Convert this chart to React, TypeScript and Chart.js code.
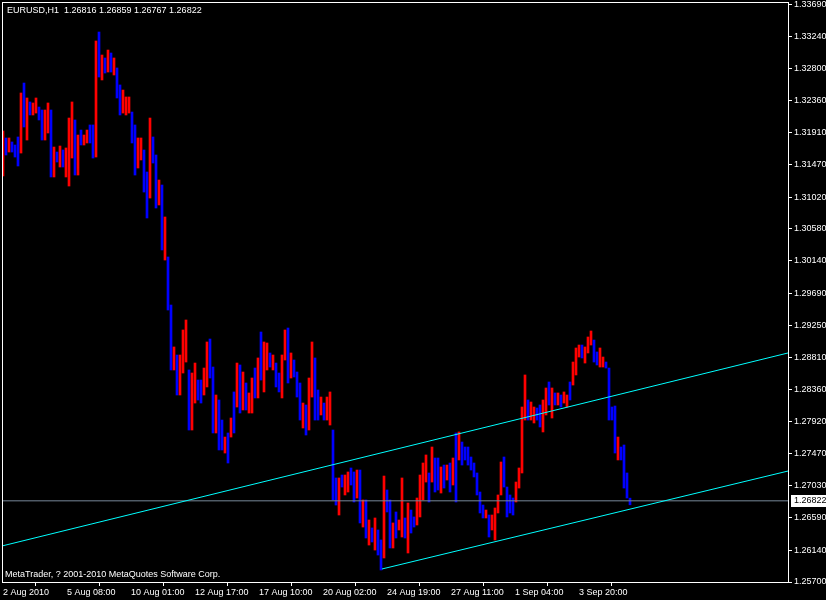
import { useEffect, useRef } from "react";
import { Chart, registerables } from "chart.js";

Chart.register(...registerables);

// ---- data (EURUSD, H1, each entry here = 3 hourly bars aggregated) ----
const symbol = "EURUSD,H1";
const lastQuote = [1.26816, 1.26859, 1.26767, 1.26822]; // O H L C of the current bar
const hoursPerBar = 3;
const firstOpen = 1.314;

const highs = [
  1.31935, 1.31838, 1.31838, 1.31783, 1.31741, 1.31852, 1.3246, 1.32598, 1.32391, 1.32336,
  1.32322, 1.32391, 1.32266, 1.32225, 1.32225, 1.32322, 1.32225, 1.31713, 1.31644, 1.31727,
  1.31672, 1.317, 1.32114, 1.32336, 1.32087, 1.31879, 1.31948, 1.31879, 1.31948, 1.32018,
  1.32018, 1.33179, 1.33303, 1.32985, 1.32944, 1.33054, 1.33013, 1.32944, 1.32806, 1.32571,
  1.32501, 1.32405, 1.32405, 1.32197, 1.32018, 1.31838, 1.31838, 1.31672, 1.31368, 1.32114,
  1.31852, 1.31603, 1.31257, 1.31188, 1.30746, 1.30193, 1.29529, 1.28949, 1.28838, 1.28838,
  1.29184, 1.29322, 1.28631, 1.28589, 1.28727, 1.28492, 1.28492, 1.28658, 1.29018, 1.29059,
  1.28672, 1.28285, 1.28216, 1.27939, 1.27704, 1.2776, 1.27967, 1.28327, 1.28727, 1.287,
  1.28603, 1.28451, 1.28313, 1.2852, 1.28658, 1.28797, 1.29156, 1.29018, 1.29004, 1.28866,
  1.28838, 1.28727, 1.28589, 1.28838, 1.29184, 1.29211, 1.28866, 1.28769, 1.28603, 1.28451,
  1.28174, 1.28147, 1.2852, 1.29018, 1.28797, 1.28354, 1.28257, 1.28174, 1.28257, 1.28327,
  1.27801, 1.27138, 1.27138, 1.27179, 1.27179, 1.27221, 1.27276, 1.27221, 1.27248, 1.27248,
  1.26834, 1.26834, 1.26557, 1.26447, 1.26585, 1.26419, 1.26281, 1.27165, 1.26972, 1.26834,
  1.26516, 1.26668, 1.26557, 1.27138, 1.26585, 1.26792, 1.26695, 1.26599, 1.26861, 1.27179,
  1.27345, 1.27456, 1.27207, 1.27566, 1.27414, 1.27414, 1.2729, 1.27317, 1.27317, 1.27345,
  1.27414, 1.2776, 1.27774, 1.27635, 1.27566, 1.27566, 1.27428, 1.27345, 1.27207, 1.26944,
  1.26764, 1.26695, 1.26626, 1.26626, 1.26723, 1.26903, 1.27359, 1.27428, 1.27013, 1.26903,
  1.26861, 1.27082, 1.27276, 1.28119, 1.28562, 1.28216, 1.28188, 1.28119, 1.28105, 1.28147,
  1.28216, 1.28382, 1.28465, 1.28382, 1.28313, 1.28313, 1.28285, 1.28327, 1.28285, 1.28465,
  1.28741, 1.28935, 1.28976, 1.28976, 1.28949, 1.29087, 1.2917, 1.29045, 1.2888, 1.28935,
  1.2881, 1.28741, 1.28658, 1.28119, 1.28133, 1.27704, 1.27566, 1.27594, 1.27207, 1.26859,
];

const lows = [
  1.31313, 1.31603, 1.31644, 1.31644, 1.31575, 1.31451, 1.3163, 1.3199, 1.3181, 1.32156,
  1.32156, 1.32183, 1.32087, 1.3181, 1.3181, 1.31907, 1.31299, 1.31299, 1.31506, 1.31437,
  1.31437, 1.31299, 1.31174, 1.31561, 1.31326, 1.31326, 1.31741, 1.31741, 1.31769, 1.31769,
  1.31561, 1.31575, 1.32681, 1.3264, 1.32736, 1.3275, 1.3275, 1.32709, 1.32391, 1.32156,
  1.32183, 1.32156, 1.32183, 1.31769, 1.31326, 1.31423, 1.31534, 1.31091, 1.30732, 1.31008,
  1.31492, 1.3087, 1.30912, 1.3029, 1.30151, 1.2946, 1.28631, 1.28631, 1.28285, 1.28285,
  1.28589, 1.28741, 1.27801, 1.27801, 1.28174, 1.28216, 1.28174, 1.28285, 1.28396, 1.2852,
  1.2776, 1.2776, 1.27525, 1.27525, 1.27483, 1.27345, 1.27704, 1.2776, 1.28119, 1.28036,
  1.28078, 1.28078, 1.28036, 1.28036, 1.28244, 1.28244, 1.28492, 1.28327, 1.28631, 1.28672,
  1.28631, 1.28396, 1.28327, 1.28244, 1.28769, 1.28451, 1.2852, 1.28534, 1.28257, 1.27939,
  1.27829, 1.27732, 1.27801, 1.28257, 1.27939, 1.27939, 1.28009, 1.27939, 1.27939, 1.2787,
  1.26834, 1.26764, 1.26626, 1.27013, 1.26903, 1.26944, 1.27041, 1.26806, 1.26861, 1.26516,
  1.2646, 1.26308, 1.26211, 1.26253, 1.26142, 1.26073, 1.25866, 1.26032, 1.26668, 1.2617,
  1.2617, 1.26308, 1.26419, 1.26322, 1.26308, 1.26101, 1.26377, 1.2646, 1.26488, 1.26599,
  1.26834, 1.27082, 1.26806, 1.27082, 1.26944, 1.26972, 1.2693, 1.26999, 1.2711, 1.26944,
  1.27041, 1.26806, 1.27387, 1.27317, 1.27387, 1.27317, 1.27248, 1.27152, 1.26903, 1.26654,
  1.26585, 1.26585, 1.26322, 1.26419, 1.26281, 1.26654, 1.26903, 1.27013, 1.26599, 1.26654,
  1.26626, 1.26806, 1.26999, 1.27207, 1.27939, 1.27939, 1.27939, 1.27898, 1.27939, 1.27843,
  1.27774, 1.28009, 1.28147, 1.27967, 1.28147, 1.28147, 1.28119, 1.28174, 1.28119, 1.28216,
  1.28423, 1.28562, 1.2881, 1.28797, 1.28727, 1.28866, 1.28976, 1.28741, 1.287, 1.28672,
  1.28672, 1.28658, 1.27939, 1.27939, 1.27483, 1.27387, 1.27387, 1.26999, 1.26861, 1.26767,
];

const closes = [
  1.318, 1.3165, 1.3178, 1.3168, 1.3162, 1.315, 1.3235, 1.321, 1.323, 1.322,
  1.3228, 1.3234, 1.3212, 1.3188, 1.3215, 1.3225, 1.314, 1.3165, 1.3154, 1.3165,
  1.3148, 1.316, 1.3195, 1.322, 1.314, 1.318, 1.3178, 1.3185, 1.319, 1.318,
  1.316, 1.329, 1.3275, 1.329, 1.3278, 1.3295, 1.328, 1.3288, 1.3245, 1.322,
  1.3235, 1.3238, 1.3239, 1.3185, 1.314, 1.3175, 1.3178, 1.3115, 1.308, 1.317,
  1.3155, 1.3095, 1.312, 1.304, 1.306, 1.2955, 1.287, 1.289, 1.2835, 1.287,
  1.2905, 1.292, 1.279, 1.284, 1.286, 1.2825, 1.282, 1.2855, 1.289, 1.286,
  1.2785, 1.282, 1.276, 1.2756, 1.2765, 1.274, 1.279, 1.278, 1.286, 1.281,
  1.285, 1.2815, 1.2825, 1.2845, 1.283, 1.287, 1.286, 1.289, 1.2895, 1.287,
  1.288, 1.2845, 1.284, 1.2875, 1.291, 1.2855, 1.288, 1.286, 1.283, 1.28,
  1.281, 1.278, 1.284, 1.289, 1.2805, 1.28, 1.282, 1.28, 1.282, 1.2825,
  1.269, 1.268, 1.2705, 1.2703, 1.271, 1.2718, 1.2708, 1.269, 1.2715, 1.266,
  1.2675, 1.2638, 1.265, 1.2628, 1.2645, 1.2612, 1.2595, 1.269, 1.2675, 1.263,
  1.2645, 1.264, 1.2652, 1.266, 1.2635, 1.267, 1.2655, 1.2648, 1.268, 1.271,
  1.273, 1.274, 1.269, 1.2745, 1.2705, 1.27, 1.272, 1.2715, 1.2728, 1.2705,
  1.2735, 1.2725, 1.277, 1.274, 1.2739, 1.2735, 1.2727, 1.2717, 1.2695, 1.267,
  1.266, 1.2668, 1.264, 1.266, 1.2665, 1.2685, 1.2725, 1.271, 1.2675, 1.267,
  1.2665, 1.27, 1.272, 1.28, 1.284, 1.28, 1.2808, 1.281, 1.2798, 1.279,
  1.2815, 1.283, 1.282, 1.283, 1.2818, 1.2828, 1.2815, 1.282, 1.2826, 1.2824,
  1.287, 1.2888, 1.2895, 1.2885, 1.289, 1.2905, 1.2912, 1.288, 1.2875, 1.2876,
  1.2878, 1.2868, 1.28, 1.2796, 1.2755, 1.2765, 1.2742, 1.2705, 1.269, 1.26822,
];

// trend channel drawn on the chart (hour index, price)
const upperChannelHours = [0, 786];
const upperChannelPrices = [1.26198, 1.28866];
const lowerChannelHours = [380, 786];
const lowerChannelPrices = [1.2588, 1.27234];

// axes
const priceTicks = [
  1.3369, 1.3324, 1.328, 1.3236, 1.3191, 1.3147, 1.3102, 1.3058, 1.3014, 1.2969,
  1.2925, 1.2881, 1.2836, 1.2792, 1.2747, 1.2703, 1.2659, 1.2614, 1.257,
];
const tickHours = [1, 65, 129, 193, 257, 321, 385, 449, 513, 577];
const tickLabels = [
  "2 Aug 2010", "5 Aug 08:00", "10 Aug 01:00", "12 Aug 17:00", "17 Aug 10:00",
  "20 Aug 02:00", "24 Aug 19:00", "27 Aug 11:00", "1 Sep 04:00", "3 Sep 20:00",
];
const copyright = "MetaTrader, ? 2001-2010 MetaQuotes Software Corp.";

const FONT = "'Liberation Sans', Arial, sans-serif";

export default function App() {
  const ref = useRef<HTMLCanvasElement>(null);

  useEffect(() => {
    const canvas = ref.current;
    if (!canvas) return;

    const barData = highs.map((h, i) => ({
      x: i * hoursPerBar + 1,
      y: [lows[i], h],
    }));
    const barColors = closes.map((c, i) => {
      const o = i === 0 ? firstOpen : closes[i - 1];
      return c > o ? "#ff0000" : c < o ? "#0000ff" : "#00ff00";
    });
    const hoursMax = 786;

    const overlay = {
      id: "mtOverlay",
      afterDraw(chart: any) {
        const { ctx, chartArea, scales } = chart;
        ctx.save();
        // frame
        ctx.strokeStyle = "#ffffff";
        ctx.lineWidth = 1;
        ctx.strokeRect(
          chartArea.left + 0.5,
          chartArea.top + 0.5,
          chartArea.right - chartArea.left,
          chartArea.bottom - chartArea.top
        );
        // texts
        ctx.font = `9px ${FONT}`;
        ctx.fillStyle = "#ffffff";
        ctx.textBaseline = "middle";
        ctx.textAlign = "left";
        ctx.fillText(
          `${symbol}  ${lastQuote.map((v) => v.toFixed(5)).join(" ")}`,
          chartArea.left + 5,
          chartArea.top + 9
        );
        ctx.fillText(copyright, chartArea.left + 3, chartArea.bottom - 7);
        // current price label
        const py = scales.y.getPixelForValue(lastQuote[3]);
        ctx.fillStyle = "#ffffff";
        ctx.fillRect(chartArea.right + 3, Math.round(py) - 6, 40, 12);
        ctx.fillStyle = "#000000";
        ctx.fillText(lastQuote[3].toFixed(5), chartArea.right + 6, Math.round(py));
        ctx.restore();
      },
    };

    const chart = new Chart(canvas, {
      type: "bar",
      data: {
        datasets: [
          {
            type: "line",
            data: upperChannelHours.map((h, i) => ({ x: h, y: upperChannelPrices[i] })),
            borderColor: "#00ffff",
            borderWidth: 1,
            pointRadius: 0,
            fill: false,
            order: 0,
          },
          {
            type: "line",
            data: lowerChannelHours.map((h, i) => ({ x: h, y: lowerChannelPrices[i] })),
            borderColor: "#00ffff",
            borderWidth: 1,
            pointRadius: 0,
            fill: false,
            order: 0,
          },
          {
            type: "line",
            data: [
              { x: 0, y: lastQuote[3] },
              { x: hoursMax, y: lastQuote[3] },
            ],
            borderColor: "#778899",
            borderWidth: 1,
            pointRadius: 0,
            fill: false,
            order: 0,
          },
          {
            type: "bar",
            data: barData as any,
            backgroundColor: barColors,
            borderWidth: 0,
            barThickness: 2,
            grouped: false,
            order: 1,
          } as any,
        ],
      },
      options: {
        responsive: false,
        devicePixelRatio: 1,
        animation: false,
        events: [],
        layout: { padding: { left: 2, top: 2, right: 0, bottom: 0 } },
        plugins: {
          legend: { display: false },
          tooltip: { enabled: false },
        },
        scales: {
          x: {
            type: "linear",
            min: 0,
            max: hoursMax,
            offset: false,
            border: { display: false },
            grid: {
              drawOnChartArea: false,
              drawTicks: true,
              tickLength: 4,
              color: "#ffffff",
            },
            ticks: {
              color: "#ffffff",
              font: { family: FONT, size: 9 },
              align: "start",
              autoSkip: false,
              maxRotation: 0,
              minRotation: 0,
              padding: 1,
              callback: (v: any) => {
                const k = tickHours.indexOf(Number(v));
                return k >= 0 ? tickLabels[k] : "";
              },
            },
            afterBuildTicks: (s: any) => {
              s.ticks = tickHours.map((v) => ({ value: v }));
            },
            afterFit: (s: any) => {
              s.height = 18;
              s.paddingLeft = 0;
              s.paddingRight = 0;
            },
          },
          y: {
            type: "linear",
            position: "right",
            min: 1.257,
            max: 1.33718,
            border: { display: false },
            grid: {
              drawOnChartArea: false,
              drawTicks: true,
              tickLength: 4,
              color: "#ffffff",
            },
            ticks: {
              color: "#ffffff",
              font: { family: FONT, size: 9 },
              padding: 2,
              autoSkip: false,
              callback: (v: any) => Number(v).toFixed(5),
            },
            afterBuildTicks: (s: any) => {
              s.ticks = priceTicks.map((v) => ({ value: v }));
            },
            afterFit: (s: any) => {
              s.width = 38;
              s.paddingTop = 0;
              s.paddingBottom = 0;
            },
          },
        },
      } as any,
      plugins: [overlay],
    });

    return () => chart.destroy();
  }, []);

  return (
    <div
      style={{
        position: "absolute",
        left: 0,
        top: 0,
        width: 826,
        height: 600,
        background: "#000000",
      }}
    >
      <canvas ref={ref} width={826} height={600} style={{ display: "block" }} />
    </div>
  );
}
